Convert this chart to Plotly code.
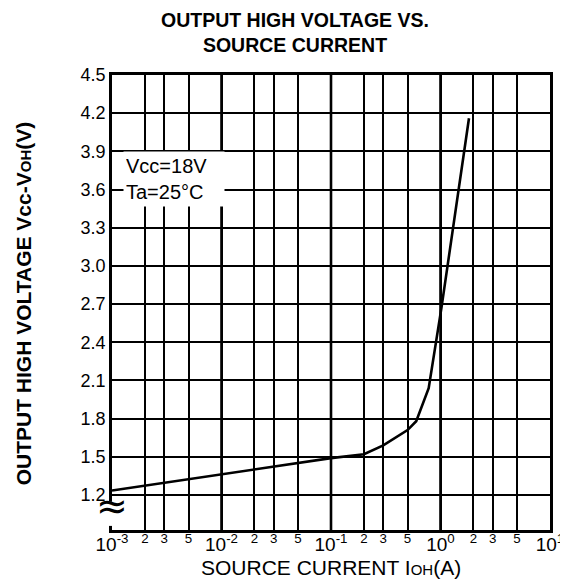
import plotly.graph_objects as go

# ---- data ----
current_a = [0.001, 0.01, 0.1, 0.2, 0.3, 0.5, 0.6, 0.78, 1.02, 1.82]
voltage_v = [1.235, 1.36, 1.49, 1.52, 1.59, 1.71, 1.78, 2.04, 2.67, 4.16]

x_tickvals = [0.001, 0.002, 0.003, 0.005, 0.01, 0.02, 0.03, 0.05,
              0.1, 0.2, 0.3, 0.5, 1, 2, 3, 5, 10]
x_ticktext = ["10<sup>-3</sup>", "<sup>2</sup>", "<sup>3</sup>", "<sup>5</sup>",
              "10<sup>-2</sup>", "<sup>2</sup>", "<sup>3</sup>", "<sup>5</sup>",
              "10<sup>-1</sup>", "<sup>2</sup>", "<sup>3</sup>", "<sup>5</sup>",
              "10<sup>0</sup>", "<sup>2</sup>", "<sup>3</sup>", "<sup>5</sup>",
              "10<sup>1</sup>"]
decades = [0.01, 0.1, 1]
y_tickvals = [1.2, 1.5, 1.8, 2.1, 2.4, 2.7, 3.0, 3.3, 3.6, 3.9, 4.2, 4.5]
y_ticktext = ["1.2", "1.5", "1.8", "2.1", "2.4", "2.7", "3.0", "3.3", "3.6", "3.9", "4.2", "4.5"]
y_min, y_max = 0.925, 4.5

FONT = "Liberation Sans, Arial, Helvetica, sans-serif"

fig = go.Figure()

# thicker decade grid lines
for d in decades:
    fig.add_trace(go.Scatter(x=[d, d], y=[y_min, y_max], mode="lines",
                             line=dict(color="black", width=2.6),
                             hoverinfo="skip", showlegend=False))

fig.add_trace(go.Scatter(x=current_a, y=voltage_v, mode="lines",
                         line=dict(color="black", width=2.6),
                         showlegend=False))

fig.update_layout(
    width=568, height=586,
    margin=dict(l=104, r=18, t=67, b=64),
    paper_bgcolor="white", plot_bgcolor="white",
    font=dict(family=FONT, color="black", size=16),
    xaxis=dict(type="log", range=[-3, 1],
               tickmode="array", tickvals=x_tickvals, ticktext=x_ticktext,
               tickfont=dict(family=FONT, size=19, color="black"),
               ticks="", ticklabelstandoff=-5,
               showgrid=True, gridcolor="black", gridwidth=1.5,
               showline=True, linecolor="black", linewidth=2.6, mirror=True,
               zeroline=False),
    yaxis=dict(range=[y_min, y_max],
               tickmode="array", tickvals=y_tickvals, ticktext=y_ticktext,
               tickfont=dict(family=FONT, size=18, color="black"),
               ticks="", showgrid=True, gridcolor="black", gridwidth=1.5,
               showline=True, linecolor="black", linewidth=2.6, mirror=True,
               zeroline=False),
    shapes=[
        dict(type="rect", xref="paper", yref="paper",
             x0=-0.012, x1=0.006, y0=0.009, y1=0.062,
             fillcolor="white", line=dict(width=0), layer="above"),
    ],
    annotations=[
        dict(text="<b>OUTPUT HIGH VOLTAGE VS.<br>SOURCE CURRENT</b>",
             xref="paper", yref="paper", x=0.417, y=1.093,
             xanchor="center", yanchor="middle", showarrow=False,
             font=dict(family=FONT, size=19.5, color="black")),
        dict(text="<b>OUTPUT HIGH VOLTAGE Vcc-V<span style='font-size:15px'>OH</span>(V)</b>",
             xref="paper", yref="paper", x=-0.2, y=0.499, textangle=-90,
             xanchor="center", yanchor="middle", showarrow=False,
             font=dict(family=FONT, size=21, color="black")),
        dict(text="SOURCE CURRENT I<span style='font-size:15px'>OH</span>(A)",
             xref="paper", yref="paper", x=0.5, y=-0.083,
             xanchor="center", yanchor="middle", showarrow=False,
             font=dict(family=FONT, size=21, color="black")),
        dict(text="Vcc=18V<br>Ta=25°C", xref="paper", yref="paper",
             x=0.141, y=0.772, xanchor="center", yanchor="middle",
             showarrow=False, align="left",
             width=96, height=50,
             font=dict(family=FONT, size=20, color="black"),
             bgcolor="white", borderpad=2),
        dict(text="≈", xref="paper", yref="paper", x=0.0, y=0.052,
             showarrow=False, font=dict(family="DejaVu Sans", size=38, color="black"),
             xanchor="center", yanchor="middle"),
    ],
)

fig.write_html("out.html")
